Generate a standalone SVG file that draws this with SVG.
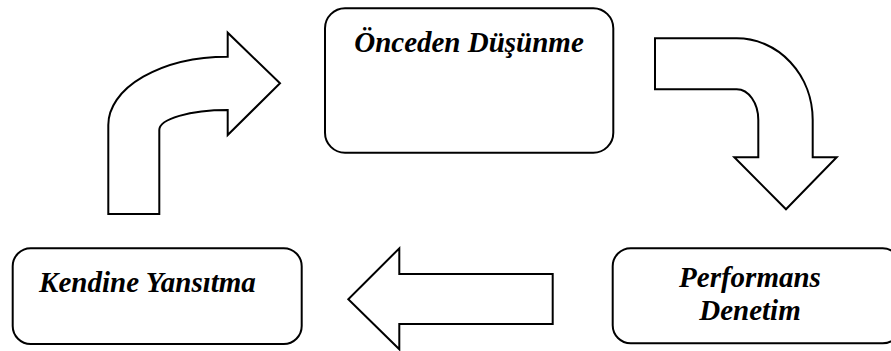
<svg xmlns="http://www.w3.org/2000/svg" width="891" height="351" viewBox="0 0 891 351">
  <style>
    .box { fill: #ffffff; stroke: #000000; stroke-width: 2; }
    .arrow { fill: #ffffff; stroke: #000000; stroke-width: 2; stroke-linejoin: miter; }
    .label { font-family: "Liberation Serif", "DejaVu Serif", serif; font-weight: bold; font-style: italic; font-size: 29px; fill: #000000; text-anchor: middle; }
  </style>
  <rect width="891" height="351" fill="#ffffff"/>

  <!-- block arrows linking the three phases -->
  <g id="connectors">
    <path class="arrow" d="M 108.3 214 L 108.3 125 A 119.4 68.3 0 0 1 227.7 56.7 L 227.7 32.7 L 280 83.3 L 227.7 135 L 227.7 110 A 68.4 20 0 0 0 159.3 130 L 159.3 214 Z"/>
    <path class="arrow" d="M 655 38.3 L 736.7 38.3 A 76 81.7 0 0 1 812.7 120 L 812.7 157.3 L 836.7 157.3 L 786 209.3 L 734.3 157.3 L 758.3 157.3 L 758.3 120 A 21.6 30.7 0 0 0 736.7 89.3 L 655 89.3 Z"/>
    <path class="arrow" d="M 552.7 274 L 399.3 274 L 399.3 248.3 L 348.3 299.3 L 399.3 349.3 L 399.3 324 L 552.7 324 Z"/>
  </g>

  <g id="onceden-dusunme">
    <rect class="box" x="325" y="8.3" width="288.3" height="144.4" rx="20" ry="20"/>
    <text class="label" x="469" y="51.7">Önceden Düşünme</text>
  </g>

  <g id="performans-denetim">
    <rect class="box" x="612.7" y="248.3" width="288" height="95" rx="18" ry="18"/>
    <text class="label" x="750" y="287">Performans</text>
    <text class="label" x="750" y="320">Denetim</text>
  </g>

  <g id="kendine-yansitma">
    <rect class="box" x="12.7" y="248.3" width="289" height="95.7" rx="18" ry="18"/>
    <text class="label" x="147.5" y="291.7">Kendine Yansıtma</text>
  </g>
</svg>
